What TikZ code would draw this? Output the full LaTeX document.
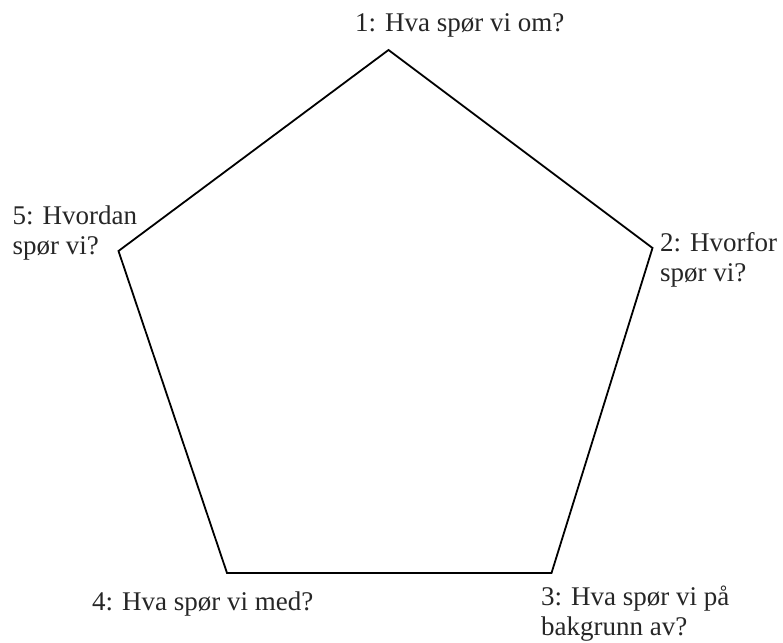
\documentclass[tikz,border=0pt]{standalone}
\usepackage{fontspec}
\setmainfont{Liberation Serif}
\usepackage{tikz}
\usetikzlibrary{positioning}

\begin{document}
\begin{tikzpicture}[x=1pt,y=-1pt,
  lbl/.style={anchor=base west,align=left,inner sep=0pt,font=\fontsize{27}{30}\selectfont,text=black!85},
  edge/.style={draw=black,line width=1.8pt,line join=miter}]
\useasboundingbox (0,0) rectangle (783,642);
\coordinate (p1) at (388.5,50);
\coordinate (p2) at (652.5,248);
\coordinate (p3) at (551.5,573);
\coordinate (p4) at (227,573);
\coordinate (p5) at (118.5,251);
\draw[edge] (p1)--(p2)--(p3)--(p4)--(p5)--cycle;
% two-line labels sit on the baseline of their last line
\node[lbl] (q1) at (355,31.5) {1: Hva spør vi om?};
\node[lbl] (q2) at (660,281.5) {2: Hvorfor\\spør vi?};
\node[lbl] (q3) at (541,635) {3: Hva spør vi på\\bakgrunn av?};
\node[lbl] (q4) at (92,610) {4: Hva spør vi med?};
\node[lbl] (q5) at (12.5,254) {5: Hvordan\\spør vi?};
\end{tikzpicture}
\end{document}
